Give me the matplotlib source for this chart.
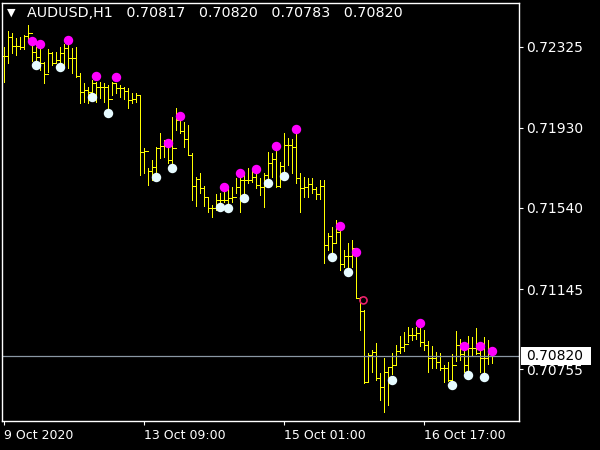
import numpy as np
import matplotlib
matplotlib.use('Agg')
import matplotlib.pyplot as plt
import matplotlib.transforms as mtransforms
from matplotlib.patches import Rectangle

# AUDUSD H1 bars (open = previous close)
high = [0.72325, 0.72401, 0.72391, 0.72367, 0.72372, 0.72382, 0.72430, 0.72328, 0.72323, 0.72314,
        0.72250, 0.72314, 0.72299, 0.72299, 0.72323, 0.72338, 0.72333, 0.72318, 0.72323, 0.72198,
        0.72148, 0.72130, 0.72163, 0.72154, 0.72154, 0.72148, 0.72138, 0.72154, 0.72147, 0.72138,
        0.72130, 0.72122, 0.72098, 0.72098, 0.72090, 0.71830, 0.71733, 0.71773, 0.71838, 0.71905,
        0.71871, 0.71832, 0.71983, 0.72026, 0.71963, 0.71958, 0.71944, 0.71807, 0.71691, 0.71710,
        0.71647, 0.71593, 0.71554, 0.71608, 0.71613, 0.71618, 0.71637, 0.71642, 0.71686, 0.71686,
        0.71715, 0.71734, 0.71725, 0.71705, 0.71686, 0.71710, 0.71812, 0.71807, 0.71817, 0.71764,
        0.71905, 0.71880, 0.71876, 0.71900, 0.71710, 0.71691, 0.71686, 0.71686, 0.71642, 0.71676,
        0.71676, 0.71418, 0.71447, 0.71481, 0.71433, 0.71335, 0.71369, 0.71384, 0.71301, 0.71107,
        0.71043, 0.70834, 0.70848, 0.70883, 0.70737, 0.70810, 0.70766, 0.70834, 0.70873, 0.70917,
        0.70936, 0.70960, 0.70956, 0.70960, 0.70956, 0.70946, 0.70892, 0.70868, 0.70839, 0.70834,
        0.70776, 0.70790, 0.70829, 0.70941, 0.70902, 0.70848, 0.70917, 0.70912, 0.70956, 0.70848,
        0.70912, 0.70897, 0.70820]
low = [0.72154, 0.72245, 0.72294, 0.72284, 0.72316, 0.72316, 0.72357, 0.72255, 0.72260, 0.72211,
       0.72148, 0.72202, 0.72236, 0.72245, 0.72250, 0.72236, 0.72221, 0.72198, 0.72179, 0.72051,
       0.72057, 0.72049, 0.72104, 0.72057, 0.72074, 0.72057, 0.72026, 0.72090, 0.72098, 0.72081,
       0.72069, 0.72025, 0.72049, 0.72057, 0.71700, 0.71709, 0.71652, 0.71676, 0.71716, 0.71783,
       0.71788, 0.71759, 0.71759, 0.71919, 0.71905, 0.71837, 0.71798, 0.71579, 0.71549, 0.71613,
       0.71549, 0.71520, 0.71496, 0.71530, 0.71569, 0.71569, 0.71564, 0.71569, 0.71613, 0.71520,
       0.71613, 0.71661, 0.71666, 0.71637, 0.71603, 0.71545, 0.71686, 0.71691, 0.71642, 0.71642,
       0.71720, 0.71749, 0.71710, 0.71661, 0.71520, 0.71593, 0.71593, 0.71613, 0.71583, 0.71583,
       0.71272, 0.71335, 0.71326, 0.71374, 0.71238, 0.71253, 0.71253, 0.71253, 0.71102, 0.70946,
       0.70688, 0.70693, 0.70741, 0.70703, 0.70605, 0.70547, 0.70581, 0.70732, 0.70776, 0.70834,
       0.70844, 0.70888, 0.70897, 0.70902, 0.70868, 0.70848, 0.70741, 0.70761, 0.70761, 0.70751,
       0.70693, 0.70698, 0.70703, 0.70795, 0.70800, 0.70741, 0.70751, 0.70824, 0.70829, 0.70741,
       0.70741, 0.70780, 0.70783]
close = [0.72279, 0.72370, 0.72330, 0.72330, 0.72323, 0.72379, 0.72391, 0.72299, 0.72275, 0.72245,
         0.72192, 0.72294, 0.72245, 0.72260, 0.72294, 0.72318, 0.72270, 0.72270, 0.72182, 0.72106,
         0.72114, 0.72106, 0.72148, 0.72130, 0.72130, 0.72130, 0.72070, 0.72150, 0.72122, 0.72122,
         0.72111, 0.72065, 0.72069, 0.72090, 0.71814, 0.71819, 0.71720, 0.71739, 0.71830, 0.71841,
         0.71846, 0.71773, 0.71832, 0.71968, 0.71914, 0.71876, 0.71798, 0.71647, 0.71681, 0.71637,
         0.71593, 0.71540, 0.71540, 0.71579, 0.71579, 0.71579, 0.71588, 0.71593, 0.71642, 0.71676,
         0.71676, 0.71676, 0.71691, 0.71652, 0.71642, 0.71700, 0.71759, 0.71778, 0.71647, 0.71744,
         0.71846, 0.71846, 0.71837, 0.71686, 0.71637, 0.71642, 0.71656, 0.71632, 0.71608, 0.71647,
         0.71360, 0.71403, 0.71369, 0.71423, 0.71267, 0.71306, 0.71306, 0.71345, 0.71102, 0.71038,
         0.70693, 0.70824, 0.70839, 0.70712, 0.70669, 0.70741, 0.70766, 0.70776, 0.70844, 0.70863,
         0.70878, 0.70922, 0.70922, 0.70931, 0.70888, 0.70873, 0.70810, 0.70810, 0.70790, 0.70761,
         0.70761, 0.70703, 0.70776, 0.70873, 0.70829, 0.70776, 0.70858, 0.70858, 0.70834, 0.70810,
         0.70810, 0.70817, 0.70820]

# indicator signals: magenta above highs, white below lows, one hollow mark
up_idx = [7, 9, 16, 23, 28, 41, 44, 55, 59, 63, 68, 73, 84, 88, 104, 115, 119, 122]
up_val = [0.72351, 0.72336, 0.72356, 0.72182, 0.72176, 0.71855, 0.71987, 0.71640, 0.71709,
          0.71728, 0.71840, 0.71923, 0.71454, 0.71324, 0.70978, 0.70870, 0.70870, 0.70845]
dn_idx = [8, 14, 22, 26, 38, 42, 54, 56, 60, 66, 70, 82, 86, 97, 112, 116, 120]
dn_val = [0.72236, 0.72225, 0.72081, 0.72001, 0.71693, 0.71733, 0.71546, 0.71538, 0.71587,
          0.71663, 0.71695, 0.71303, 0.71227, 0.70703, 0.70677, 0.70725, 0.70716]
ring_idx = [90]
ring_val = [0.71090]

price_ticks = [0.72325, 0.71930, 0.71540, 0.71145, 0.70755]
time_pos = [0, 35, 70, 105]
time_text = ['9 Oct 2020', '13 Oct 09:00', '15 Oct 01:00', '16 Oct 17:00']
last_price = 0.70820
header = 'AUDUSD,H1   0.70817   0.70820   0.70783   0.70820'

plt.rcParams['font.family'] = ['DejaVu Sans']

n = len(close)
idx = np.arange(n)
opn = [close[0]] + close[:-1]

fig = plt.figure(figsize=(6, 4.5), dpi=100, facecolor='black')
ax = fig.add_axes([2 / 600, 29 / 450, 517 / 600, 418.5 / 450], facecolor='black')

# 1 px wide bars, 4 px apart
bar_kw = dict(color='#ffff00', lw=0.72, antialiased=False)
ax.vlines(idx, low, high, **bar_kw)
ax.hlines(opn, idx - 0.3, idx, **bar_kw)
ax.hlines(close, idx, idx + 0.3, **bar_kw)

ax.axhline(last_price, color='#8a97a3', lw=0.9)

ax.scatter(up_idx, up_val, s=46, color='#ff00ff', zorder=5, linewidths=0)
ax.scatter(dn_idx, dn_val, s=46, color='#e6fbff', zorder=5, linewidths=0)
ax.scatter(ring_idx, ring_val, s=26, facecolors='none', edgecolors='#e8206a',
           linewidths=1.2, zorder=5)

ax.set_xlim(-0.375, 128.875)
ax.set_ylim(0.70503, 0.72540)

for sp in ax.spines.values():
    sp.set_color('white')
    sp.set_linewidth(1.0)

ax.yaxis.tick_right()
ax.set_yticks(price_ticks)
ax.set_yticklabels([f'{p:.5f}' for p in price_ticks])
ax.tick_params(axis='y', colors='white', direction='out', length=3, width=0.8,
               pad=2, labelsize=10, labelcolor='white')

ax.set_xticks(time_pos)
ax.set_xticklabels(time_text)
ax.tick_params(axis='x', colors='white', direction='out', length=3, width=0.8,
               pad=2.5, labelsize=9, labelcolor='white')
for lab in ax.get_xticklabels():
    lab.set_horizontalalignment('left')

# current price tag
trans = mtransforms.blended_transform_factory(ax.transAxes, ax.transData)
ypx = (0.72540 - 0.70503) / 418.5
ax.add_patch(Rectangle((1.0 + 1.5 / 517, last_price - 9.2 * ypx), 70 / 517, 18.4 * ypx,
                       transform=trans, facecolor='white', edgecolor='none',
                       clip_on=False, zorder=19))
ax.text(1.0 + 7.5 / 517, last_price, f'{last_price:.5f}', transform=trans, color='black',
        fontsize=10, ha='left', va='center', clip_on=False, zorder=20)

# header
fig.text(11 / 600, 1 - 13 / 450, '\u25bc', color='white', fontsize=8, ha='center', va='center')
fig.text(27 / 600, 1 - 13 / 450, header, color='white', fontsize=10.3, ha='left', va='center')

fig.savefig('out.png', dpi=100, facecolor='black')
